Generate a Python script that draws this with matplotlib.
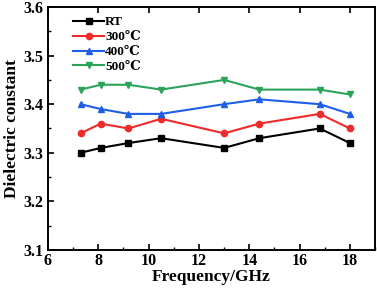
import matplotlib.pyplot as plt
from matplotlib.ticker import MultipleLocator

# =============================
# DATA
# =============================
freq = [7.3, 8.1, 9.2, 10.5, 13.0, 14.4, 16.8, 18.0]
rt = [3.30, 3.31, 3.32, 3.33, 3.31, 3.33, 3.35, 3.32]
t300 = [3.34, 3.36, 3.35, 3.37, 3.34, 3.36, 3.38, 3.35]
t400 = [3.40, 3.39, 3.38, 3.38, 3.40, 3.41, 3.40, 3.38]
t500 = [3.43, 3.44, 3.44, 3.43, 3.45, 3.43, 3.43, 3.42]
labels = ["RT", "300\u2103", "400\u2103", "500\u2103"]

# =============================
# PLOT
# =============================
plt.rcParams["font.family"] = ["Liberation Serif", "DejaVu Serif"]
plt.rcParams["font.weight"] = "bold"

fig = plt.figure(figsize=(3.77, 2.92), dpi=100)
ax = fig.add_axes([0.127, 0.144, 0.868, 0.832])

ax.plot(freq, rt, color="black", marker="s", ms=4.5, lw=1.5, label=labels[0])
ax.plot(freq, t300, color="#ee2b2b", marker="o", ms=4.5, lw=1.5, label=labels[1])
ax.plot(freq, t400, color="#1f5fe8", marker="^", ms=5, lw=1.5, label=labels[2])
ax.plot(freq, t500, color="#2ba35a", marker="v", ms=5, lw=1.5, label=labels[3])

ax.set_xlim(6, 19)
ax.set_ylim(3.1, 3.6)
ax.xaxis.set_major_locator(MultipleLocator(2))
ax.xaxis.set_minor_locator(MultipleLocator(1))
ax.yaxis.set_major_locator(MultipleLocator(0.1))
ax.yaxis.set_minor_locator(MultipleLocator(0.05))
ax.tick_params(which="both", direction="in", labelsize=11.5)
ax.tick_params(which="major", length=4, width=1.2, top=True)
ax.tick_params(which="minor", length=2, width=1)
ax.tick_params(axis="x", pad=2)
ax.yaxis.set_major_formatter(plt.FormatStrFormatter("%.1f"))
for s in ax.spines.values():
    s.set_linewidth(1.4)

ax.set_xlabel("Frequency/GHz", fontsize=12.5, fontweight="bold", labelpad=0)
ax.set_ylabel("Dielectric constant", fontsize=12.5, fontweight="bold", labelpad=2)

leg = ax.legend(loc="upper left", frameon=False, fontsize=9.5, handlelength=2.3,
                handletextpad=0.1, labelspacing=0.2, borderaxespad=0.3,
                bbox_to_anchor=(0.05, 1.0))

fig.savefig("out.png", dpi=100)
